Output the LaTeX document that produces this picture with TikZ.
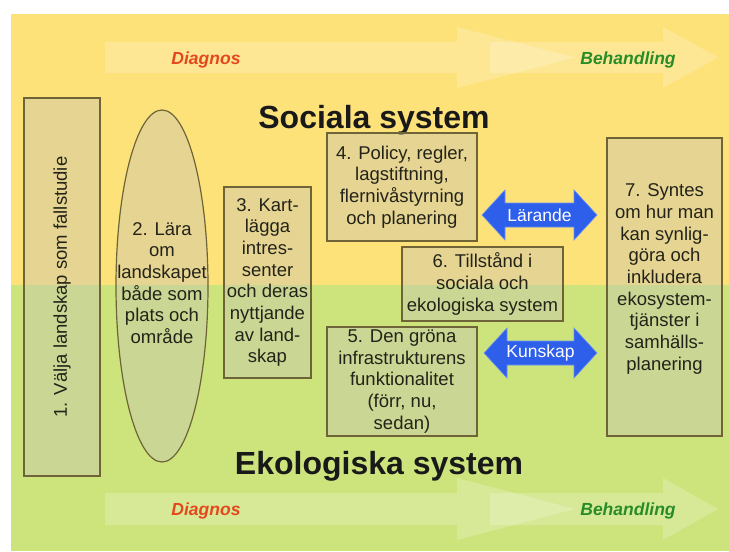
\documentclass[tikz,border=0pt]{standalone}
\usepackage{fontspec}
\setmainfont{Liberation Sans}
\usetikzlibrary{shapes.geometric}
\definecolor{bgyellow}{RGB}{253,226,122}
\definecolor{bggreen}{RGB}{205,228,125}
\definecolor{boxfill}{RGB}{200,196,180}
\definecolor{boxline}{RGB}{110,100,55}
\definecolor{diagred}{RGB}{228,72,30}
\definecolor{behgreen}{RGB}{40,140,40}
\definecolor{blueA}{RGB}{45,95,235}
\definecolor{txt}{RGB}{35,35,25}
\tikzset{
  boxshape/.style={draw=boxline, line width=1.2pt, fill=boxfill, fill opacity=0.42, draw opacity=1},
  stepbox/.style={boxshape, rectangle, inner sep=0pt, text opacity=1, text=txt,
    font=\fontsize{18.5}{21.7}\selectfont, align=center},
  steptext/.style={text=txt, font=\fontsize{18.5}{21.7}\selectfont, align=center, inner sep=0pt},
  faintarrow/.style={fill=white, fill opacity=0.2},
  bluearrow/.style={fill=blueA, draw=blueA!70!white, line width=0.6pt},
  bluelabel/.style={text=white, font=\fontsize{17.5}{20}\selectfont, inner sep=0pt},
  phase/.style={font=\bfseries\itshape\fontsize{17.5}{20}\selectfont, inner sep=0pt, anchor=base},
  systitle/.style={font=\bfseries\fontsize{32}{36}\selectfont, inner sep=0pt, anchor=base, text=black!90}
}
\begin{document}
\begin{tikzpicture}[x=1pt, y=-1pt]
\useasboundingbox (0,0) rectangle (729,552);
\fill[white] (0,0) rectangle (729,552);
\fill[bgyellow] (11,14) rectangle (729,285);
\fill[bggreen] (11,285) rectangle (729,551);

% faint process arrows (top)
\fill[faintarrow] (105,42) -- (457,42) -- (457,27) -- (575,57.5) -- (457,88) -- (457,73) -- (105,73) -- cycle;
\fill[faintarrow] (490,42) -- (663,42) -- (663,27) -- (718,57.5) -- (663,88) -- (663,73) -- (490,73) -- cycle;
% faint process arrows (bottom)
\fill[faintarrow] (105,493) -- (457,493) -- (457,478) -- (575,509) -- (457,540) -- (457,525) -- (105,525) -- cycle;
\fill[faintarrow] (490,493) -- (663,493) -- (663,478) -- (718,509) -- (663,540) -- (663,525) -- (490,525) -- cycle;

\node[phase, text=diagred] (d1) at (206,64) {Diagnos};
\node[phase, text=behgreen] (bh1) at (628,64) {Behandling};
\node[phase, text=diagred] (d2) at (206,515) {Diagnos};
\node[phase, text=behgreen] (bh2) at (628,515) {Behandling};

\node[systitle] (soc) at (374,128) {Sociala system};
\node[systitle] (eko) at (379,474) {Ekologiska system};

% step 1
\node[stepbox, minimum width=378, minimum height=76, rotate=90] (b1) at (62,287)
  {1. Välja landskap som fallstudie};
% step 2
\draw[boxshape] (162,286) ellipse [x radius=46, y radius=176];
\node[steptext] (b2) at (162,283) {2. Lära\\om\\landskapet\\både som\\plats och\\område};
% step 3
\node[stepbox, minimum width=87, minimum height=191] (b3) at (267.5,282.5)
  {3. Kart-\\lägga\\intres-\\senter\\och deras\\nyttjande\\av land-\\skap};
% step 4
\node[stepbox, minimum width=150, minimum height=108] (b4) at (402,187)
  {4. Policy, regler,\\lagstiftning,\\flernivåstyrning\\och planering};
% step 6
\node[stepbox, minimum width=161, minimum height=74] (b6) at (482.5,284)
  {6. Tillstånd i\\sociala och\\ekologiska system};
% step 5
\node[stepbox, minimum width=150, minimum height=109] (b5) at (402,381.5)
  {5. Den gröna\\infrastrukturens\\funktionalitet\\(förr, nu,\\sedan)};
% step 7
\node[stepbox, minimum width=115, minimum height=298] (b7) at (664.5,287) {};
\node[steptext] (b7t) at (664.5,279) {7. Syntes\\om hur man\\kan synlig-\\göra och\\inkludera\\ekosystem-\\tjänster i\\samhälls-\\planering};

% blue double arrows
\draw[bluearrow] (482,215) -- (505,190) -- (505,203) -- (574,203) -- (574,190) -- (597,215)
  -- (574,240) -- (574,227) -- (505,227) -- (505,240) -- cycle;
\node[bluelabel] (lar) at (539.5,215) {Lärande};
\draw[bluearrow] (484,353) -- (507,328) -- (507,341) -- (574,341) -- (574,328) -- (597,353)
  -- (574,378) -- (574,365) -- (507,365) -- (507,378) -- cycle;
\node[bluelabel] (kun) at (540.5,353) {Kunskap};
\end{tikzpicture}
\end{document}
